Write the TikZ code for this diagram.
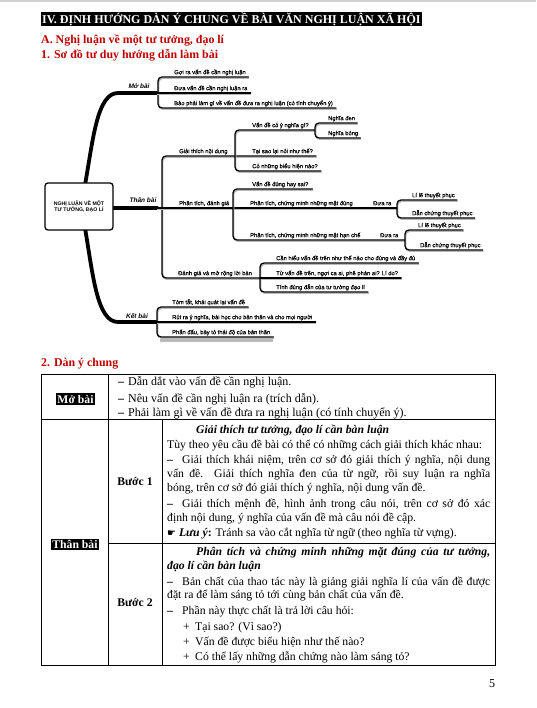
\documentclass[tikz,border=0pt]{standalone}
\usepackage{fontspec}
\setmainfont{Liberation Serif}
\newfontfamily\mapfam{Liberation Sans}[FakeBold=0.35]
\newfontfamily\mapfamplain{Liberation Sans}
\newfontfamily\symfam{DejaVu Sans}
\usetikzlibrary{calc}
\definecolor{headred}{RGB}{192,0,0}
\newcommand{\mf}{\mapfam\fontsize{5.8}{6.5}\selectfont}
\newcommand{\tf}{\fontsize{11.7}{13}\selectfont}
\newcommand{\dsh}{\makebox[15pt][l]{\textbf{–}}}
\newcommand{\pls}{\makebox[12pt][l]{+}}
\begin{document}
\begin{tikzpicture}[x=1pt,y=-1pt,
  tx/.style={anchor=base west, inner sep=0pt, font=\tf},
  mp/.style={anchor=base west, inner sep=0pt, font=\mf},
  sub/.style={line width=1.3pt, rounded corners=4pt, line cap=round,
    preaction={draw=gray!55, line width=1.3pt, transform canvas={shift={(0.8pt,-1.3pt)}}}},
  trunk/.style={line width=3.8pt, line cap=round},
  lbl/.style={inner sep=0pt, font=\mapfamplain\fontsize{6.5}{7}\selectfont\bfseries\itshape},
  grid/.style={line width=0.9pt},
  hl/.style={fill=black, text=white, inner xsep=1.5pt, inner ysep=1.5pt, font=\tf\bfseries},
  redh/.style={anchor=base west, inner sep=0pt, font=\fontsize{11.9}{13}\selectfont\bfseries, text=headred}]
\useasboundingbox (0,0) rectangle (536,708);
\fill[white] (0,0) rectangle (536,708);
\fill[gray!35] (0,0) rectangle (536,2.5);

% ---------- headings ----------
\node[fill=black, text=white, anchor=west, inner xsep=1pt, inner ysep=0pt, minimum height=14pt,
      font=\fontsize{12}{13}\selectfont\bfseries] (hdr) at (41,19) {IV. ĐỊNH HƯỚNG DÀN Ý CHUNG VỀ BÀI VĂN NGHỊ LUẬN XÃ HỘI};
\node[redh] (ha) at (41,44) {A. Nghị luận về một tư tưởng, đạo lí};
\node[redh] (h1) at (41,58.5) {1. Sơ đồ tư duy hướng dẫn làm bài};

% ---------- mind map ----------
\draw[trunk] (85,185) .. controls (93,140) and (97,93) .. (118,93) -- (157,93);
\draw[trunk] (113,208) -- (157,208);
\draw[trunk] (85,228) .. controls (93,275) and (97,322) .. (118,322) -- (157,322);
\node[draw, rounded corners=3pt, line width=1.3pt, fill=white, minimum width=68pt, minimum height=47pt,
      align=center, inner sep=1pt, font=\mapfamplain\fontsize{5.2}{6.2}\selectfont\bfseries] (core) at (79,206.5)
      {NGHỊ LUẬN VỀ MỘT\\TƯ TƯỞNG, ĐẠO LÍ};
\node[lbl] (lmo) at (139,86) {Mở bài};
\node[lbl] (lth) at (143,200.5) {Thân bài};
\node[lbl] (lke) at (137,316) {Kết bài};

% Mo bai
\node[mp] (m1) at (174,74.2) {Gợi ra vấn đề cần nghị luận};
\node[mp] (m2) at (174,90.2) {Đưa vấn đề cần nghị luận ra};
\node[mp] (m3) at (174,105.2) {Bảo phải làm gì về vấn đề đưa ra nghị luận (có tính chuyển ý)};
\draw[sub] ($(m1.base east)+(2.5,2.8)$) -| (158,108) -- ($(m3.base east)+(3,2.8)$);
\draw[sub] (156,93) -- ($(m2.base east)+(3,2.8)$);

% Than bai
\node[mp] (g0) at (179,153.2) {Giải thích nội dung};
\node[mp] (v1) at (252,127.2) {Vấn đề có ý nghĩa gì?};
\node[mp] (v2) at (252,153.2) {Tại sao lại nói như thế?};
\node[mp] (v3) at (252,168.2) {Có những biểu hiện nào?};
\node[mp] (n1) at (328,120.2) {Nghĩa đen};
\node[mp] (n2) at (328,135.2) {Nghĩa bóng};
\draw[sub] ($(v2.base east)+(3,2.8)$) -| (162,278) -- (260,278);
\draw[sub] (315,130) -| (235,171) -- ($(v3.base east)+(3,2.8)$);
\draw[sub] ($(n1.base east)+(2,2.8)$) -| (315,138) -- ($(n2.base east)+(2,2.8)$);

\node[mp] (p0) at (179,205.2) {Phân tích, đánh giá};
\node[mp] (p1) at (252,186.2) {Vấn đề đúng hay sai?};
\node[mp] (p2) at (250,205.2) {Phân tích, chứng minh những mặt đúng};
\node[mp] (p3) at (250,237.2) {Phân tích, chứng minh những mặt hạn chế};
\node[mp] (d1) at (373,205.2) {Đưa ra};
\node[mp] (d2) at (380,237.2) {Đưa ra};
\draw[sub] (156,208) -- (397,208);
\draw[sub] ($(p1.base east)+(4,2.8)$) -| (233,240) -- (405,240);
\node[mp] (l1) at (412,197.2) {Lí lẽ thuyết phục};
\node[mp] (l2) at (412,215.2) {Dẫn chứng thuyết phục};
\node[mp] (l3) at (418,227.2) {Lí lẽ thuyết phục};
\node[mp] (l4) at (420,247.2) {Dẫn chứng thuyết phục};
\draw[sub] ($(l1.base east)+(2,2.8)$) -| (397,218) -- ($(l2.base east)+(2,2.8)$);
\draw[sub] ($(l3.base east)+(2,2.8)$) -| (405,250) -- ($(l4.base east)+(2,2.8)$);

\node[mp] (e0) at (178,275.2) {Đánh giá và mở rộng lời bàn};
\node[mp] (e1) at (276,260.2) {Cần hiểu vấn đề trên như thế nào cho đúng và đầy đủ};
\node[mp] (e2) at (276,275.2) {Từ vấn đề trên, ngợi ca ai, phê phán ai? Lí do?};
\node[mp] (e3) at (276,289.2) {Tính đúng đắn của tư tưởng đạo lí};
\draw[sub] ($(e1.base east)+(3,2.8)$) -| (260,292) -- ($(e3.base east)+(3,2.8)$);
\draw[sub] (260,278) -- ($(e2.base east)+(3,2.8)$);

% Ket bai
\node[mp] (k1) at (172,304.2) {Tóm tắt, khái quát lại vấn đề};
\node[mp] (k2) at (172,319.2) {Rút ra ý nghĩa, bài học cho bản thân và cho mọi người};
\node[mp] (k3) at (172,334.2) {Phấn đấu, bày tỏ thái độ của bản thân};
\draw[sub] ($(k1.base east)+(3,2.8)$) -| (157,337) -- ($(k3.base east)+(3,2.8)$);
\draw[sub] (156,322) -- ($(k2.base east)+(3,2.8)$);

\fill[gray!55] (160,339) rectangle (273,341.5);

% ---------- table ----------
\node[redh] (h2) at (41,366) {2. Dàn ý chung};
\draw[grid] (41,374) rectangle (495,665);
\draw[grid] (41,419) -- (495,419);
\draw[grid] (108,374) -- (108,665);
\draw[grid] (162,419) -- (162,665);
\draw[grid] (108,543) -- (495,543);

\node[hl] (lm) at (75.5,399) {Mở bài};
\node[hl] (lt) at (75,544.5) {Thân bài};
\node[font=\tf\bfseries, inner sep=0pt] (b1) at (135,482) {Bước 1};
\node[font=\tf\bfseries, inner sep=0pt] (b2) at (135,603) {Bước 2};

\node[tx, font=\fontsize{12}{13}\selectfont] (a1) at (118,385.5) {\makebox[10pt][l]{\textbf{–}}Dẫn dắt vào vấn đề cần nghị luận.};
\node[tx, font=\fontsize{12}{13}\selectfont] (a2) at (118,402.5) {\makebox[10pt][l]{\textbf{–}}Nêu vấn đề cần nghị luận ra (trích dẫn).};
\node[tx, font=\fontsize{12}{13}\selectfont] (a3) at (118,416.5) {\makebox[10pt][l]{\textbf{–}}Phải làm gì về vấn đề đưa ra nghị luận (có tính chuyển ý).};

\node[tx] (c1) at (196,433.5) {\textbf{\textit{Giải thích tư tưởng, đạo lí cần bàn luận}}};
\node[tx] (c2) at (167,448.5) {Tùy theo yêu cầu đề bài có thể có những cách giải thích khác nhau:};
\node[tx] (c3) at (167,463.5) {\makebox[323pt][s]{\dsh Giải thích khái niệm, trên cơ sở đó giải thích ý nghĩa, nội dung}};
\node[tx] (c4) at (167,477.5) {\makebox[323pt][s]{vấn đề. Giải thích nghĩa đen của từ ngữ, rồi suy luận ra nghĩa}};
\node[tx] (c5) at (167,491.5) {bóng, trên cơ sở đó giải thích ý nghĩa, nội dung vấn đề.};
\node[tx] (c6) at (167,507.5) {\makebox[323pt][s]{\dsh Giải thích mệnh đề, hình ảnh trong câu nói, trên cơ sở đó xác}};
\node[tx] (c7) at (167,521.5) {định nội dung, ý nghĩa của vấn đề mà câu nói đề cập.};
\node[tx] (c8) at (167,536.5) {{\symfam\fontsize{10}{11}\selectfont ☛} \textbf{\textit{Lưu ý}:} Tránh sa vào cắt nghĩa từ ngữ (theo nghĩa từ vựng).};

\node[tx] (f1) at (196,555.5) {\makebox[294pt][s]{\textbf{\textit{Phân tích và chứng minh những mặt đúng của tư tưởng,}}}};
\node[tx] (f2) at (167,569.5) {\textbf{\textit{đạo lí cần bàn luận}}};
\node[tx] (f3) at (167,585.5) {\makebox[323pt][s]{\dsh Bản chất của thao tác này là giảng giải nghĩa lí của vấn đề được}};
\node[tx] (f4) at (167,598.5) {đặt ra để làm sáng tỏ tới cùng bản chất của vấn đề.};
\node[tx] (f5) at (167,614.5) {\dsh Phần này thực chất là trả lời câu hỏi:};
\node[tx] (f6) at (183,630.5) {\pls Tại sao? (Vì sao?)};
\node[tx] (f7) at (183,645.5) {\pls Vấn đề được biểu hiện như thế nào?};
\node[tx] (f8) at (183,660.5) {\pls Có thể lấy những dẫn chứng nào làm sáng tỏ?};

\node[font=\fontsize{12}{14}\selectfont, inner sep=0pt] (pg) at (492,684) {5};
\end{tikzpicture}
\end{document}
